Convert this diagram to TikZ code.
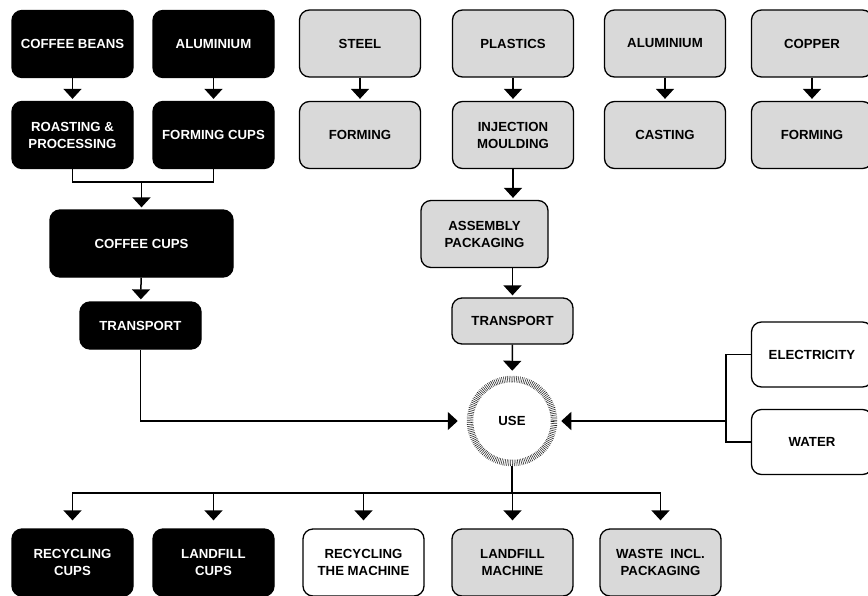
\documentclass[tikz,border=0pt]{standalone}
\usepackage{fontspec}
\setmainfont{Liberation Sans}
\usetikzlibrary{arrows.meta}
\definecolor{boxgray}{RGB}{217,217,217}

\begin{document}
\begin{tikzpicture}[x=1pt,y=-1pt,
  box/.style={draw=black,line width=1.3pt,rounded corners=10pt,minimum width=121pt,
    minimum height=67pt,align=center,inner sep=2pt,font=\fontsize{13.2}{17}\selectfont\bfseries},
  blackbox/.style={box,fill=black,text=white},
  graybox/.style={box,fill=boxgray},
  whitebox/.style={box,fill=white},
  usering/.style={circle,draw=black!85,line width=6.5pt,dash pattern=on 0.55pt off 1.25pt,
    minimum size=84pt,font=\fontsize{13.2}{17}\selectfont\bfseries},
  link/.style={line width=1.5pt},
  arr/.style={link,-{Triangle[width=18pt,length=10pt]},shorten >=2pt}]
  \useasboundingbox (0,0) rectangle (868,595);

  \node[blackbox] (beans)  at (72.5,44)  {COFFEE BEANS};
  \node[blackbox] (alblk)  at (213.5,44) {ALUMINIUM};
  \node[blackbox] (roast)  at (72.5,135) {ROASTING \&\\PROCESSING};
  \node[blackbox] (fcups)  at (213.5,135){FORMING CUPS};
  \node[blackbox,minimum width=183pt] (cups) at (141.5,243.5) {COFFEE CUPS};
  \node[blackbox,minimum height=47pt] (tblk) at (140.5,325.5) {TRANSPORT};

  \node[graybox] (steel)   at (360,43.5) {STEEL};
  \node[graybox] (formst)  at (360,135)  {FORMING};
  \node[graybox] (plast)   at (513,43.5) {PLASTICS};
  \node[graybox] (inject)  at (513,135)  {INJECTION\\MOULDING};
  \node[graybox] (algray)  at (665,43.5) {ALUMINIUM};
  \node[graybox] (cast)    at (665,135)  {CASTING};
  \node[graybox] (copper)  at (812,43.5) {COPPER};
  \node[graybox] (formcu)  at (812,135)  {FORMING};
  \node[graybox,minimum width=127pt] (asm) at (484.5,234) {ASSEMBLY\\PACKAGING};
  \node[graybox,minimum height=46pt] (tgray) at (512.5,321) {TRANSPORT};

  \node[usering] (use) at (512,421) {USE};
  \node[whitebox,minimum height=65pt] (elec)  at (812,354.5) {ELECTRICITY};
  \node[whitebox,minimum height=65pt] (water) at (812,442)   {WATER};

  \node[blackbox] (reccups)  at (72.5,562.5)  {RECYCLING\\CUPS};
  \node[blackbox] (landcups) at (213.5,562.5) {LANDFILL\\CUPS};
  \node[whitebox] (recmach)  at (363.5,562.5) {RECYCLING\\THE MACHINE};
  \node[graybox]  (landmach) at (512.5,562.5) {LANDFILL\\MACHINE};
  \node[graybox]  (waste)    at (660.5,562.5) {WASTE\ \ INCL.\\PACKAGING};

  \draw[arr] (beans) -- (roast);
  \draw[arr] (alblk) -- (fcups);
  \draw[arr] (steel) -- (formst);
  \draw[arr] (plast) -- (inject);
  \draw[arr] (algray) -- (cast);
  \draw[arr] (copper) -- (formcu);

  \coordinate (join) at (141.5,182);
  \draw[link] (roast.south) |- (join) -| (fcups.south);
  \draw[arr] (join) -- (cups);
  \draw[arr] (cups) -- (tblk);
  \draw[arr,shorten >=9pt] (tblk.south) |- (use.west);

  \draw[arr] (inject.south) -- (inject.south|-asm.north);
  \draw[arr] (tgray|-asm.south) -- (tgray.north);
  \draw[arr,shorten >=5pt] (tgray) -- (use);

  \coordinate (rjoin) at (726,421);
  \draw[link] (elec.west) -| (rjoin) |- (water.west);
  \draw[arr,shorten >=4pt] (rjoin) -- (use.east);

  \coordinate (bjoin) at (512,493);
  \draw[link] (use.south) -- (bjoin);
  \foreach \b in {reccups,landcups,recmach,landmach,waste}
    \draw[arr,shorten >=8pt] (bjoin) -| (\b.north);
\end{tikzpicture}
\end{document}
